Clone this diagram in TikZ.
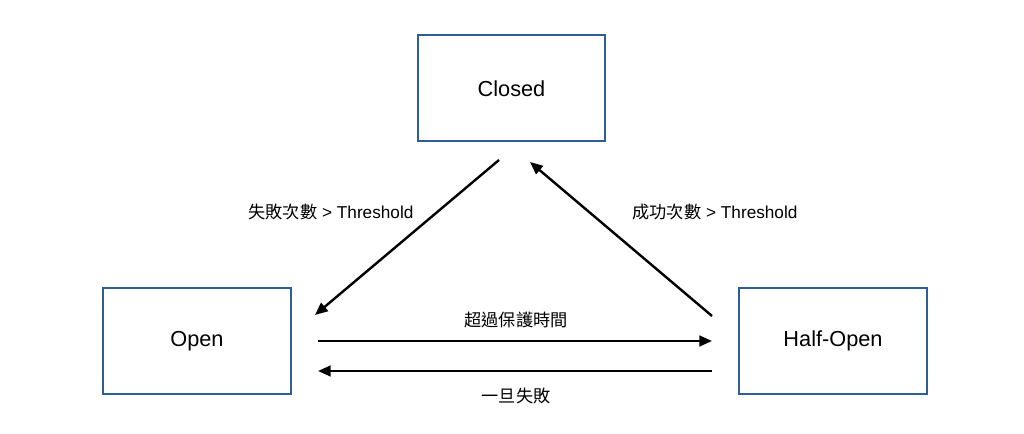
\documentclass[tikz,border=0pt]{standalone}
\usepackage{fontspec}
\setmainfont{Liberation Sans}
\newfontfamily\cjk{Noto Sans CJK TC}
\usetikzlibrary{arrows.meta,positioning}
\definecolor{boxblue}{HTML}{2F5D98}

\begin{document}
\begin{tikzpicture}[x=0.75pt, y=-0.75pt,
        state/.style={draw=boxblue, line width=1.5pt, fill=white,
            minimum width=140.5pt, minimum height=79.5pt, font=\fontsize{16.3}{18}\selectfont},
        trans/.style={-{Triangle[length=9.5pt,width=8pt]}, line width=1.8pt},
        lbl/.style={font=\fontsize{12.9}{15}\selectfont}]
    \useasboundingbox (0,0) rectangle (1024,434);

    % states
    \node[state] (closed) at (511.5,88.5) {Closed};
    \node[state] (open) at (197,341) {Open};
    \node[state] (half) at (833,341) {Half-Open};

    % end points of the arrows
    \coordinate (c1) at (499,160);
    \coordinate (o1) at (315,315);
    \coordinate (h1) at (712,316);
    \coordinate (c2) at (530,162);
    \coordinate (o2) at (318,341);
    \coordinate (h2) at (712,341);
    \coordinate (h3) at (712,371);
    \coordinate (o3) at (318,371);

    \draw[trans] (c1) -- (o1);
    \draw[trans] (h1) -- (c2);
    \draw[trans] (o2) -- (h2);
    \draw[trans] (h3) -- (o3);

    % labels
    \node[lbl] (lfail) at (331,212) {{\cjk 失敗次數} > Threshold};
    \node[lbl] (lok) at (715,212) {{\cjk 成功次數} > Threshold};
    \node[lbl] (ltime) at (516,320) {\cjk 超過保護時間};
    \node[lbl] (lonce) at (516,396) {\cjk 一旦失敗};
\end{tikzpicture}
\end{document}
